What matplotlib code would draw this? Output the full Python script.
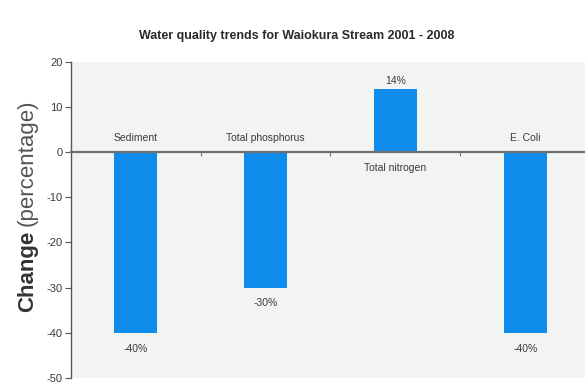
import matplotlib.pyplot as plt
import numpy as np

# Waiokura Stream, % change 2001 - 2008
categories = ["Sediment", "Total phosphorus", "Total nitrogen", "E. Coli"]
changes = [-40, -30, 14, -40]
value_labels = ["-40%", "-30%", "14%", "-40%"]

plt.rcParams["axes.unicode_minus"] = False
sans = ["Liberation Sans", "DejaVu Sans"]
bar_color = "#0f8ceb"
text_color = "#3a3a3a"

fig = plt.figure(figsize=(5.85, 3.92), dpi=100)
ax = fig.add_axes([0.121, 0.036, 0.879, 0.806])
ax.set_facecolor("#f1f4f1")

x = np.arange(len(categories))
ax.bar(x, changes, width=0.33, color=bar_color, zorder=2)

ax.set_xlim(-0.5, 3.46)
ax.set_ylim(-50, 20)

# zero line doubles as the category axis
ax.spines["bottom"].set_position(("data", 0))
ax.spines["bottom"].set_color("#6e6e6e")
ax.spines["bottom"].set_linewidth(1.6)
ax.spines["bottom"].set_zorder(3)
ax.spines["top"].set_visible(False)
ax.spines["right"].set_visible(False)
ax.spines["left"].set_color("#555555")
ax.spines["left"].set_linewidth(1.0)

ax.set_xticks(x[:-1] + 0.5)
ax.set_xticklabels([])
ax.tick_params(axis="x", direction="out", length=3, width=0.8, color="#777777")
ax.set_yticks(np.arange(-50, 21, 10))
ax.tick_params(axis="y", direction="out", length=4, width=0.8, color="#555555",
               labelsize=8, labelcolor=text_color, pad=2)
for lab in ax.get_yticklabels():
    lab.set_family(sans)

for xi, v, cat, vl in zip(x, changes, categories, value_labels):
    if v < 0:
        ax.text(xi, 2.0, cat, ha="center", va="bottom", fontsize=7.5,
                family=sans, color=text_color)
        ax.text(xi, v - 2.4, vl, ha="center", va="top", fontsize=7.5,
                family=sans, color=text_color)
    else:
        ax.text(xi, -2.4, cat, ha="center", va="top", fontsize=7.5,
                family=sans, color=text_color)
        ax.text(xi, v + 0.7, vl, ha="center", va="bottom", fontsize=7.5,
                family=sans, color=text_color)

fig.text(0.508, 0.908, "Water quality trends for Waiokura Stream 2001 - 2008",
         ha="center", va="center", fontsize=9, fontweight="bold",
         family=sans, color="#2a2a2a")

# y label: bold "Change" followed by plain "(percentage)"
t1 = fig.text(0.047, 1 - 312 / 392, "Change", rotation=90, ha="center",
              va="bottom", fontsize=16, fontweight="bold",
              family=sans, color="#333333")
fig.canvas.draw()
bb = t1.get_window_extent()
fig.text(0.047, (bb.y1 + 5) / fig.bbox.height, "(percentage)", rotation=90,
         ha="center", va="bottom", fontsize=16,
         family=sans, color="#555555")

fig.savefig("out.png", dpi=100, facecolor="white")
